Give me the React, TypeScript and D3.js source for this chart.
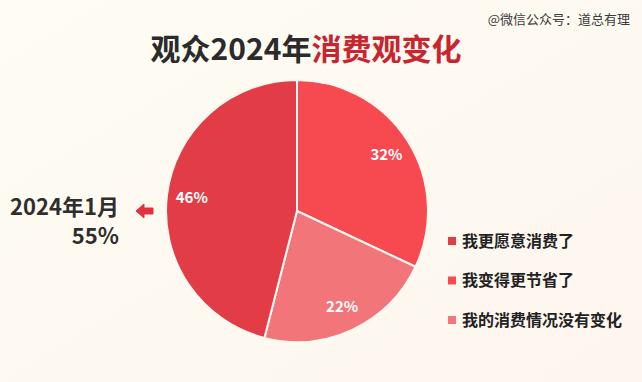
import React from "react";
import * as d3 from "d3";

const categories = ["我更愿意消费了", "我的消费情况没有变化", "我变得更节省了"];
const values = [32, 22, 46];
const sliceColors = ["#f74a50", "#f27679", "#e23d46"];
const legendLabels = ["我更愿意消费了", "我变得更节省了", "我的消费情况没有变化"];
const legendColors = ["#e23d46", "#f74a50", "#f27679"];

const W = 642, H = 382;
const cx = 297, cy = 211, R = 131;
const FONT = "'Noto Sans CJK SC', 'Noto Sans', sans-serif";

export default function App() {
  const pie = d3.pie<number>().sort(null).value((d) => d)(values);
  const arc = d3.arc<d3.PieArcDatum<number>>().innerRadius(0).outerRadius(R);
  const labelArc = d3.arc<d3.PieArcDatum<number>>().innerRadius(106).outerRadius(106);
  const legendY = d3.scalePoint<string>().domain(legendLabels).range([241, 320]);

  return (
    <svg width={W} height={H} style={{ position: "absolute", left: 0, top: 0 }}>
      <defs>
        <linearGradient id="bg" x1="0" y1="0" x2="1" y2="1">
          <stop offset="0" stopColor="#fefcf3" />
          <stop offset="1" stopColor="#fdf6ee" />
        </linearGradient>
      </defs>
      <rect width={W} height={H} fill="url(#bg)" />
      <text x={W - 12} y={24} textAnchor="end" fontFamily={FONT} fontSize={13} fill="#3a3a3a">
        @微信公众号：道总有理
      </text>
      <text x={306} y={60} textAnchor="middle" fontFamily={FONT} fontSize={30} fontWeight={700}>
        <tspan fill="#2b2b2b">观众2024年</tspan>
        <tspan fill="#c8262f">消费观变化</tspan>
      </text>
      <g transform={`translate(${cx},${cy})`}>
        {pie.map((d, i) => (
          <path key={categories[i]} d={arc(d) || ""} fill={sliceColors[i]} stroke="#fdf9f2" strokeWidth={2} />
        ))}
        {pie.map((d, i) => {
          const [x, y] = labelArc.centroid(d);
          return (
            <text key={"l" + i} x={x} y={y} dy="0.36em" textAnchor="middle" fontFamily={FONT} fontSize={15} fontWeight={700} fill="#ffffff">
              {values[i]}%
            </text>
          );
        })}
      </g>
      <text x={119} y={215} textAnchor="end" fontFamily={FONT} fontSize={22} fontWeight={700} fill="#2e2e2e">
        2024年1月
      </text>
      <text x={119} y={244} textAnchor="end" fontFamily={FONT} fontSize={22} fontWeight={700} fill="#2e2e2e">
        55%
      </text>
      <path d="M136,211 L144,204 L144,208 L153,208 L153,214 L144,214 L144,218 Z" fill="#e0323f" strokeLinejoin="round" stroke="#e0323f" strokeWidth={1} />
      {legendLabels.map((l, i) => {
        const y = legendY(l) as number;
        return (
          <g key={l}>
            <rect x={448} y={y - 4} width={8} height={8} fill={legendColors[i]} />
            <text x={462} y={y} dy="0.36em" fontFamily={FONT} fontSize={16} fontWeight={700} fill="#222">
              {l}
            </text>
          </g>
        );
      })}
    </svg>
  );
}
